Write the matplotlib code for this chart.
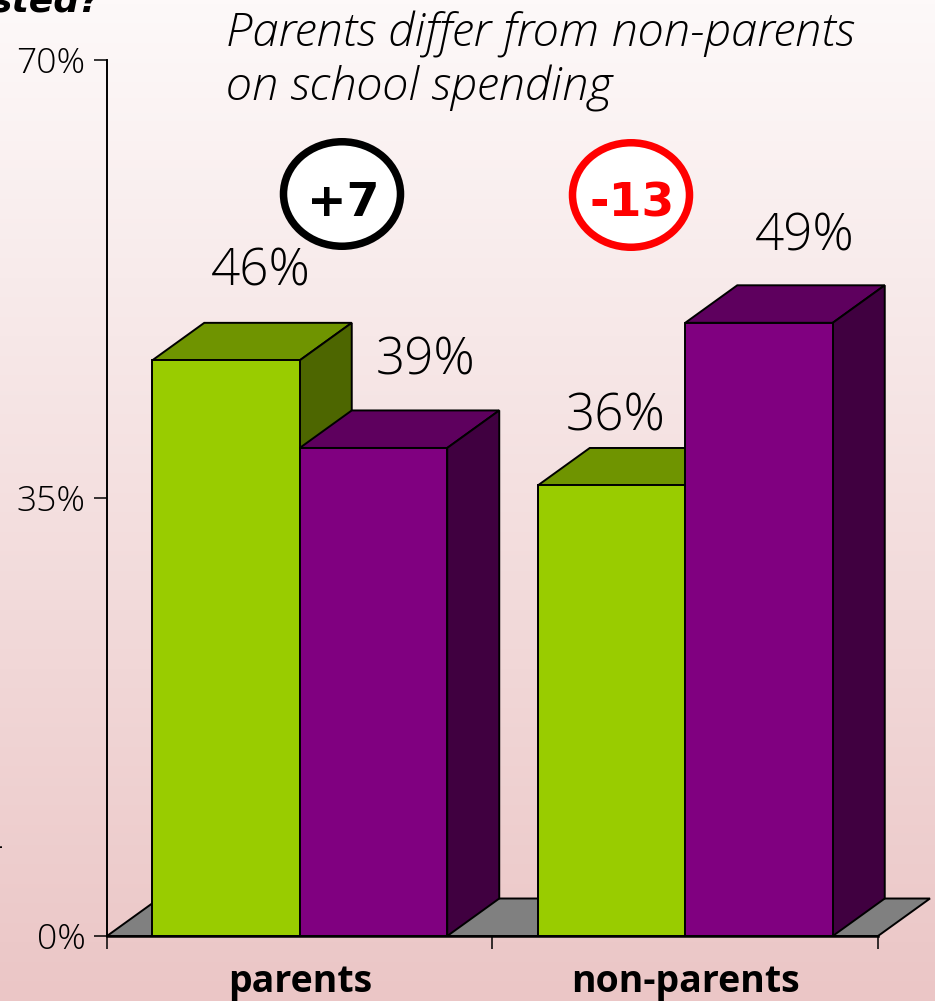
import numpy as np
import matplotlib
matplotlib.use("Agg")
import matplotlib.pyplot as plt
from matplotlib.patches import Ellipse, Polygon

plt.rcParams['font.family'] = ['Open Sans', 'DejaVu Sans']

# values
groups = ["parents", "non-parents"]
green_vals = [46, 36]
purple_vals = [39, 49]
diff_labels = ["+7", "-13"]
yticks = [0, 35, 70]

W, H = 935, 1001
GREEN = ("#99cc00", "#6f9400", "#4d6600")   # front, top, side
PURPLE = ("#800080", "#5e005e", "#400040")
DIFF_COL = ["black", "#ff0000"]

fig = plt.figure(figsize=(W / 100, H / 100), dpi=100)

# background gradient
bg = fig.add_axes([0, 0, 1, 1], zorder=0)
grad = np.linspace(0, 1, 256).reshape(-1, 1, 1)
top = np.array([253, 249, 249]) / 255
bottom = np.array([235, 198, 198]) / 255
bg.imshow(top + (bottom - top) * grad, aspect="auto")
bg.axis("off")

# axes box sits on the pixel positions of the axis lines
ax = fig.add_axes([107 / W, (H - 936) / H, 771 / W, 876 / H], zorder=1)
ax.patch.set_alpha(0)
ax.set_xlim(0, 2)
ax.set_ylim(0, 70)

# 3d depth and bar width in data units
dx = 52 / 385.5
dy = 37.5 * 70 / 876
bw = 147.5 / 385.5
lw = 1.4


def bar3d(left, val, cols):
    ax.add_patch(Polygon([(left, val), (left + dx, val + dy),
                          (left + bw + dx, val + dy), (left + bw, val)],
                         fc=cols[1], ec="black", lw=lw, clip_on=False, zorder=3))
    ax.add_patch(Polygon([(left + bw, 0), (left + bw + dx, dy),
                          (left + bw + dx, val + dy), (left + bw, val)],
                         fc=cols[2], ec="black", lw=lw, clip_on=False, zorder=3))
    ax.bar(left, val, width=bw, align="edge", color=cols[0], edgecolor="black",
           linewidth=lw, clip_on=False, zorder=3)


# floor
ax.add_patch(Polygon([(0, 0), (dx, dy), (2 + dx, dy), (2, 0)], fc="#808080",
                     ec="black", lw=lw, clip_on=False, zorder=2))

for i in range(len(groups)):
    center = i + 0.5
    bar3d(center - bw, green_vals[i], GREEN)
    bar3d(center, purple_vals[i], PURPLE)

# value labels, offset in pixels from the front top left corner of each bar
all_lefts = [0.5 - bw, 0.5, 1.5 - bw, 1.5]
all_vals = [green_vals[0], purple_vals[0], green_vals[1], purple_vals[1]]
label_off = [(109, 75), (126, 73), (78, 55), (120, 72)]
for left, v, off in zip(all_lefts, all_vals, label_off):
    ax.annotate(f"{v}%", xy=(left, v), xytext=off, textcoords="offset pixels",
                ha="center", va="baseline", fontsize=36.8, fontweight=300,
                color="black", annotation_clip=False, zorder=5)

# difference badges
badge_x = [(342 - 107) / 385.5, (631 - 107) / 385.5]
badge_y = [(936 - 194) * 70 / 876, (936 - 195) * 70 / 876]
for x, y, txt, c in zip(badge_x, badge_y, diff_labels, DIFF_COL):
    ax.add_patch(Ellipse((x, y), 117 / 385.5, 104.5 * 70 / 876, fc="white", ec=c,
                         lw=5.4, clip_on=False, zorder=4))
    ax.annotate(txt, xy=(x, y), xytext=(1, -4), textcoords="offset pixels", color=c,
                family="DejaVu Sans", fontsize=34, fontweight="bold", ha="center",
                va="center_baseline", zorder=5)

# axis
ax.set_yticks(yticks)
ax.set_yticklabels([f"{t}%" for t in yticks], fontweight=300)
ax.set_xticks([0, 1, 2])
ax.set_xticklabels([])
ax.set_xticks([0.5, 1.5], minor=True)
ax.set_xticklabels(groups, minor=True, fontsize=27, fontweight=700)
ax.tick_params(axis="y", length=9.4, width=1.1, pad=6, labelsize=25.5)
ax.tick_params(axis="x", which="major", length=9.4, width=1.1)
ax.tick_params(axis="x", which="minor", length=0, pad=19.5)
for s in ["top", "right"]:
    ax.spines[s].set_visible(False)
ax.spines["left"].set_linewidth(1.4)
ax.spines["bottom"].set_linewidth(1.8)
ax.spines["bottom"].set_zorder(6)
ax.spines["left"].set_zorder(6)

# text on the figure
fig.text(226 / W, 1 - 46 / H, "Parents differ from non-parents", style="italic",
         fontsize=34, fontweight=300, va="baseline", zorder=3)
fig.text(226 / W, 1 - 100 / H, "on school spending", style="italic",
         fontsize=34, fontweight=300, va="baseline", zorder=3)
# headline cut off by the slide crop
fig.text(101 / W, 1 - 11 / H, "sted?", style="italic", fontweight="bold",
         family="DejaVu Sans", fontsize=26, ha="right", va="baseline", zorder=3)
# tip of a cropped mark at the left edge
fig.text(0, 1 - 847 / H, "-", fontsize=10, fontweight=700, ha="center",
         va="center", zorder=3)

fig.savefig("out.png", dpi=100)
